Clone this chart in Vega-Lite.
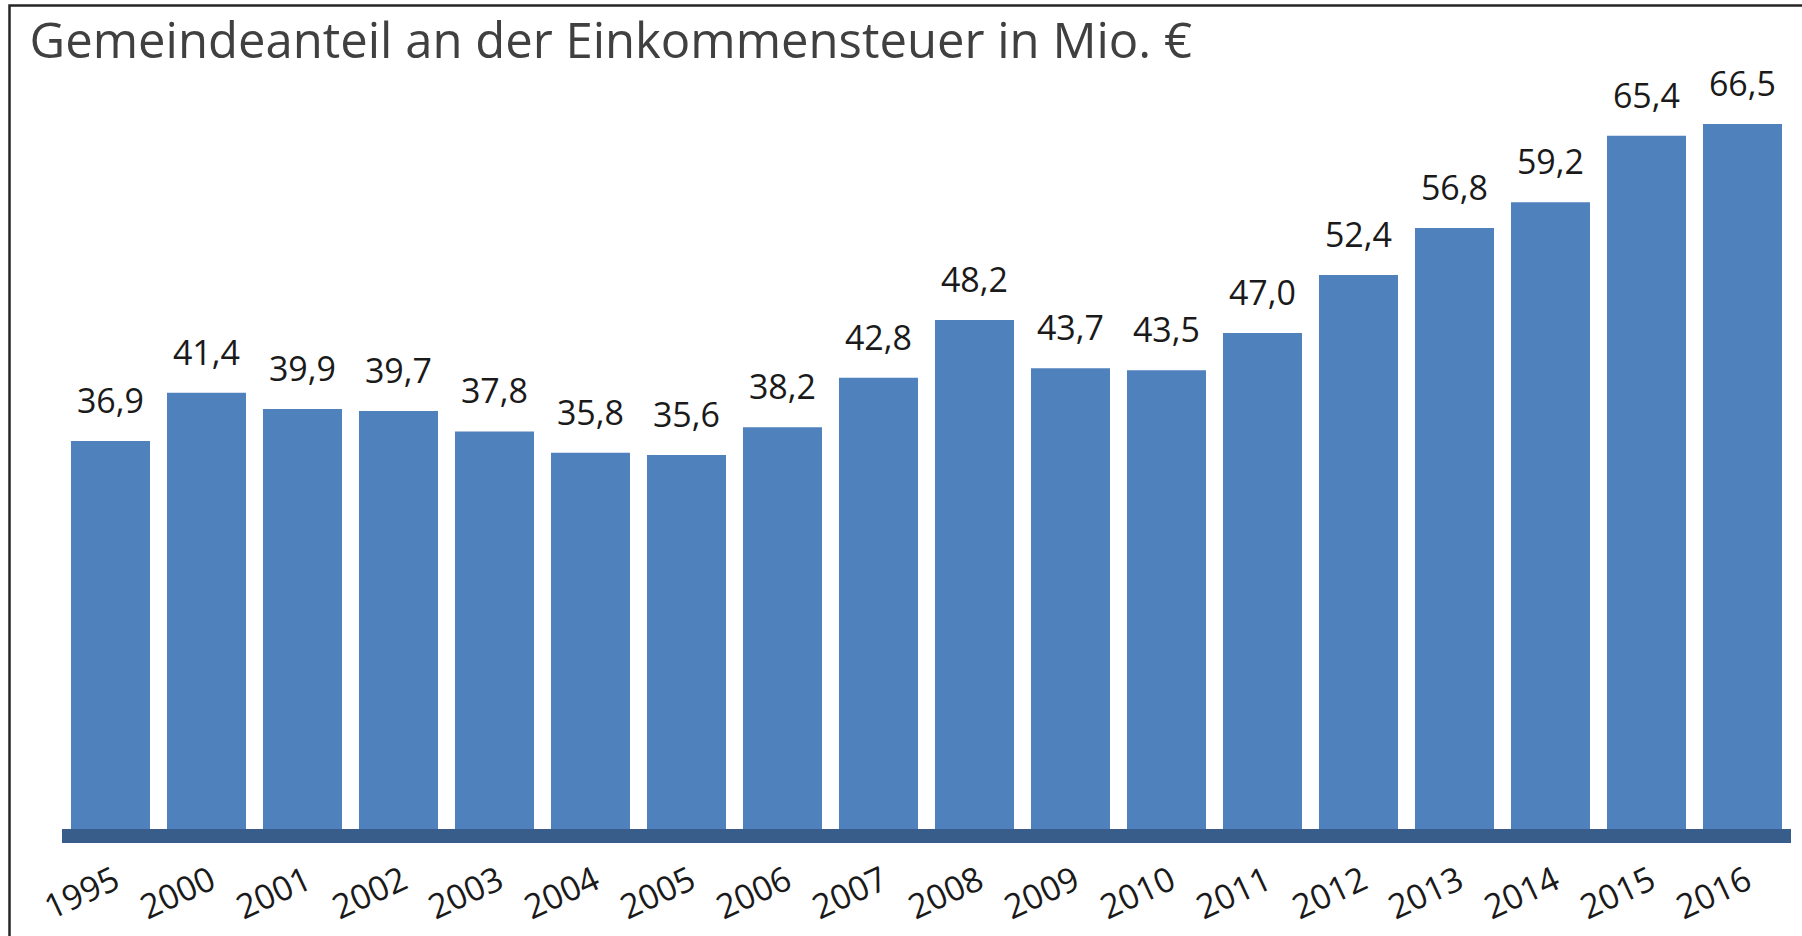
{
  "$schema": "https://vega.github.io/schema/vega-lite/v6.json",
  "width": 1810,
  "height": 945,
  "autosize": {"type": "none"},
  "padding": {"left": 9.5, "top": 5.5, "right": 0, "bottom": 0},
  "background": "white",
  "config": {
    "view": {"stroke": "#262626", "strokeWidth": 2.5},
    "locale": {"number": {"decimal": ",", "thousands": ".", "grouping": [3], "currency": ["", " €"]}},
    "font": "Open Sans"
  },
  "title": {
    "text": "Gemeindeanteil an der Einkommensteuer in Mio. €",
    "anchor": "start",
    "frame": "group",
    "orient": "top",
    "baseline": "alphabetic",
    "offset": -50,
    "dx": 20,
    "dy": 51,
    "font": "Open Sans",
    "fontSize": 49,
    "fontWeight": "normal",
    "color": "#404040"
  },
  "data": {
    "values": [
      {"year": "1995", "value": 36.9},
      {"year": "2000", "value": 41.4},
      {"year": "2001", "value": 39.9},
      {"year": "2002", "value": 39.7},
      {"year": "2003", "value": 37.8},
      {"year": "2004", "value": 35.8},
      {"year": "2005", "value": 35.6},
      {"year": "2006", "value": 38.2},
      {"year": "2007", "value": 42.8},
      {"year": "2008", "value": 48.2},
      {"year": "2009", "value": 43.7},
      {"year": "2010", "value": 43.5},
      {"year": "2011", "value": 47.0},
      {"year": "2012", "value": 52.4},
      {"year": "2013", "value": 56.8},
      {"year": "2014", "value": 59.2},
      {"year": "2015", "value": 65.4},
      {"year": "2016", "value": 66.5}
    ]
  },
  "encoding": {
    "x": {
      "field": "year",
      "type": "nominal",
      "sort": null,
      "scale": {"paddingInner": 0.177, "paddingOuter": 0.5156, "align": 0.621},
      "axis": {
        "title": null,
        "domain": false,
        "ticks": false,
        "labelAngle": -25,
        "labelFont": "Open Sans",
        "labelFontSize": 34,
        "labelColor": "#1a1a1a",
        "labelPadding": 26,
        "offset": -114.3
      }
    }
  },
  "layer": [
    {
      "mark": {"type": "bar", "color": "#4F81BD"},
      "encoding": {
        "y": {
          "field": "value",
          "type": "quantitative",
          "scale": {"domain": [-10.67, 77.57], "nice": false, "zero": false},
          "axis": null
        },
        "y2": {"datum": 0}
      }
    },
    {
      "mark": {"type": "text", "baseline": "alphabetic", "dy": -28, "fontSize": 34, "font": "Open Sans", "color": "#1a1a1a"},
      "encoding": {
        "y": {"field": "value", "type": "quantitative"},
        "text": {"field": "value", "type": "quantitative", "format": ".1f"}
      }
    },
    {
      "mark": {"type": "rule", "color": "#385D8A", "strokeWidth": 13},
      "encoding": {
        "y": {"datum": 0},
        "x": {"datum": "1995", "type": "nominal", "bandPosition": -0.11},
        "x2": {"datum": "2016", "bandPosition": 1.11}
      }
    }
  ]
}
